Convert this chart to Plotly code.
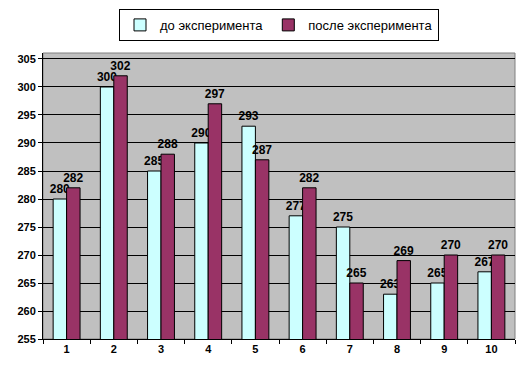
import plotly.graph_objects as go

categories = ["1", "2", "3", "4", "5", "6", "7", "8", "9", "10"]
before = [280, 300, 285, 290, 293, 277, 275, 263, 265, 267]
after = [282, 302, 288, 297, 287, 282, 265, 269, 270, 270]
y_ticks = [255, 260, 265, 270, 275, 280, 285, 290, 295, 300, 305]

label_font = dict(family="Liberation Sans, Arial", size=12, color="black", weight="bold")

fig = go.Figure()
fig.add_trace(go.Bar(
    x=categories, y=before, name="до эксперимента",
    marker=dict(color="#CCFFFF", line=dict(color="black", width=1)),
    text=before, textposition="outside", cliponaxis=False, constraintext="none",
    textfont=label_font,
))
fig.add_trace(go.Bar(
    x=categories, y=after, name="после эксперимента",
    marker=dict(color="#993366", line=dict(color="black", width=1)),
    text=after, textposition="outside", cliponaxis=False, constraintext="none",
    textfont=label_font,
))

fig.update_layout(
    width=531, height=381,
    margin=dict(l=43, r=16, t=53, b=42, autoexpand=False),
    paper_bgcolor="white", plot_bgcolor="#C0C0C0",
    barmode="group", bargap=0.43, bargroupgap=0,
    font=dict(family="Liberation Sans, Arial", color="black"),
    legend=dict(
        orientation="h", x=0.5, xanchor="center", y=1.154, yanchor="top",
        bordercolor="black", borderwidth=1, bgcolor="white",
        font=dict(size=13), itemwidth=30, tracegroupgap=0,
    ),
    shapes=[dict(type="rect", xref="paper", yref="paper", x0=0, x1=1, y0=0, y1=1,
                 line=dict(color="#808080", width=1), layer="below")],
    showlegend=True,
)
fig.update_xaxes(
    type="category", showline=True, linecolor="black", linewidth=1,
    ticks="outside", tickson="boundaries", ticklen=4, tickcolor="black",
    showgrid=False, tickfont=dict(size=11, weight="bold"),
)
fig.update_yaxes(
    range=[255, 306.07], tickvals=y_ticks, showline=True, linecolor="black",
    linewidth=1, ticks="outside", ticklen=4, tickcolor="black",
    showgrid=True, gridcolor="black", gridwidth=1, zeroline=False,
    tickfont=dict(size=11, weight="bold"),
)

fig.write_html("out.html", config={"displayModeBar": False},
               post_script="document.body.style.margin='0';")
